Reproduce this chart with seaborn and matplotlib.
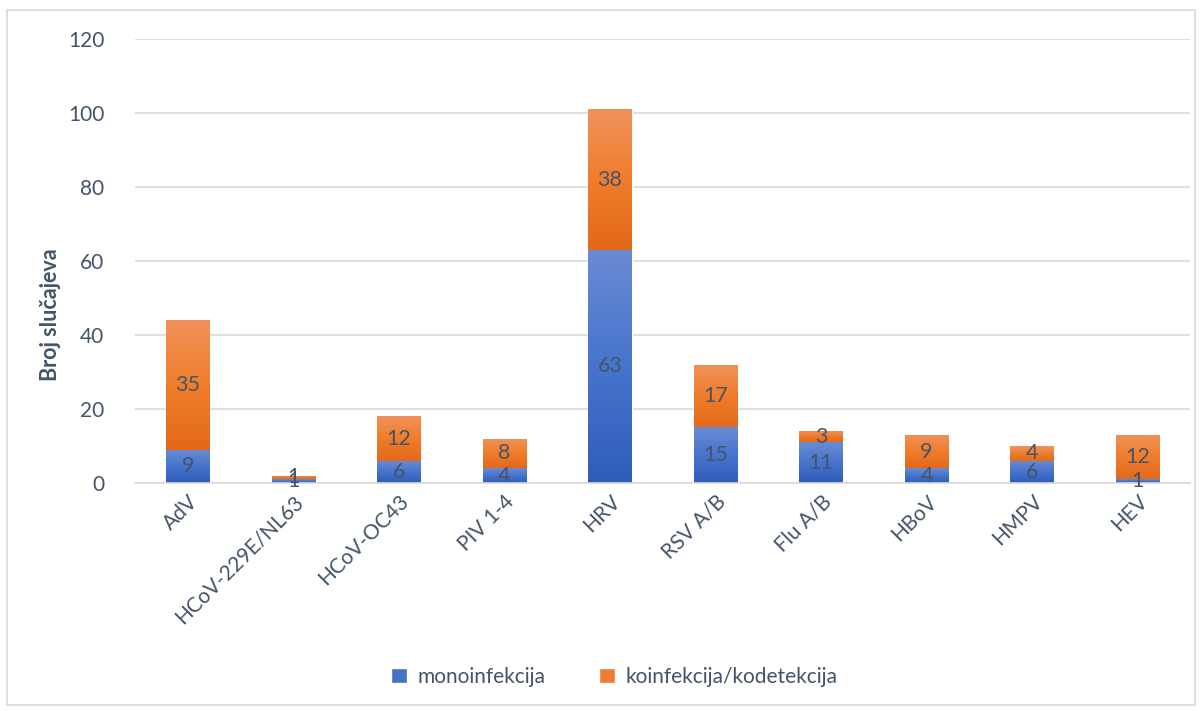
import numpy as np
import seaborn as sns
from matplotlib import pyplot as plt
from matplotlib.colors import LinearSegmentedColormap
from matplotlib.patches import Rectangle, Patch

# data
viruses = ["AdV", "HCoV-229E/NL63", "HCoV-OC43", "PIV 1-4", "HRV",
           "RSV A/B", "Flu A/B", "HBoV", "HMPV", "HEV"]
mono = [9, 1, 6, 4, 63, 15, 11, 4, 6, 1]
coinf = [35, 1, 12, 8, 38, 17, 3, 9, 4, 12]
series_names = ["monoinfekcija", "koinfekcija/kodetekcija"]
y_ticks = [0, 20, 40, 60, 80, 100, 120]

total = [m + c for m, c in zip(mono, coinf)]

sns.set_style("white")
plt.rcParams['font.family'] = ['Lato', 'DejaVu Sans']
txt = "#44546A"
blue, orange = "#4472C4", "#ED7D31"
blue_cm = LinearSegmentedColormap.from_list("b", ["#2E5DB9", "#4774CC", "#6A8BD3"])
orange_cm = LinearSegmentedColormap.from_list("o", ["#E2691A", "#F07D2B", "#F0925C"])

fig = plt.figure(figsize=(12.02, 7.11), dpi=100)
ax = fig.add_axes([0.1123, 0.3207, 0.878, 0.6244])

sns.barplot(x=viruses, y=total, color=orange, width=0.41, ax=ax, saturation=1)
sns.barplot(x=viruses, y=mono, color=blue, width=0.41, ax=ax, saturation=1)

# vertical gradient fill like the Excel original
grad = np.linspace(0, 1, 256).reshape(-1, 1)
n = len(viruses)
for i, p in enumerate(ax.patches[:n]):
    x0, w = p.get_x(), p.get_width()
    im = ax.imshow(grad, cmap=orange_cm, origin="lower", aspect="auto",
                   extent=(x0, x0 + w, mono[i], total[i]), zorder=p.get_zorder() + 0.1)
    im.set_clip_path(p)
for i, p in enumerate(ax.patches[n:2 * n]):
    x0, w = p.get_x(), p.get_width()
    im = ax.imshow(grad, cmap=blue_cm, origin="lower", aspect="auto",
                   extent=(x0, x0 + w, 0, mono[i]), zorder=p.get_zorder() + 0.2)
    im.set_clip_path(p)

# data labels centred in each segment
for i in range(n):
    ax.text(i, mono[i] / 2, str(mono[i]), ha="center", va="center",
            fontsize=15.5, color=txt, zorder=10)
    ax.text(i, mono[i] + coinf[i] / 2, str(coinf[i]), ha="center", va="center",
            fontsize=15.5, color=txt, zorder=10)

ax.set_xlim(-0.5, n - 0.5)
ax.set_ylim(0, 120)
ax.set_yticks(y_ticks)
ax.set_yticklabels([str(v) for v in y_ticks], fontsize=15, color=txt)
ax.tick_params(axis="y", length=0, pad=22)
ax.tick_params(axis="x", length=0, pad=6)
ax.set_xticks(range(n))
ax.set_xticklabels(viruses, rotation=45, ha="right", rotation_mode="anchor",
                   fontsize=15, color=txt)
ax.yaxis.grid(True, color="#D9D9D9", linewidth=1.2)
ax.set_axisbelow(True)
for s in ["top", "right", "left"]:
    ax.spines[s].set_visible(False)
ax.spines["bottom"].set_color("#D9D9D9")
ax.spines["bottom"].set_linewidth(1.2)

ax.set_xlabel("")
ax.set_ylabel("Broj slučajeva", fontsize=15.5, fontweight="bold", color=txt)
ax.yaxis.set_label_coords(-0.07, 0.378)

handles = [Patch(facecolor=blue), Patch(facecolor=orange)]
fig.legend(handles, series_names, loc="center", bbox_to_anchor=(0.511, 0.048),
           ncol=2, frameon=False, fontsize=15, labelcolor=txt,
           handlelength=0.75, handleheight=0.75, columnspacing=2.6, handletextpad=0.5)

# light chart-area border
fig.patches.append(Rectangle((0.006, 0.008), 0.988, 0.978, transform=fig.transFigure,
                             fill=False, edgecolor="#D9D9D9", linewidth=1.2))

fig.savefig("out.png", dpi=100)
